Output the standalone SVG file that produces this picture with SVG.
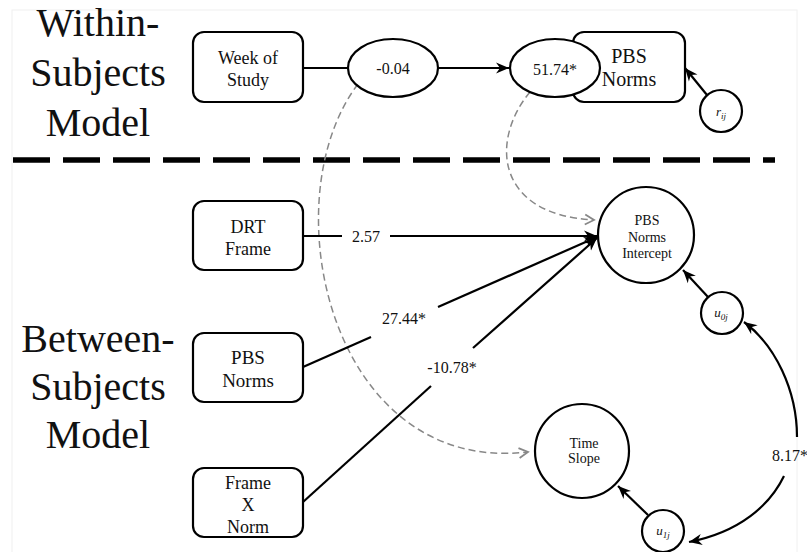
<svg xmlns="http://www.w3.org/2000/svg" width="807" height="552" viewBox="0 0 807 552">
<style>
  .box{fill:#fff;stroke:#000;stroke-width:2.2}
  .t{font-family:"Liberation Serif","Times New Roman",serif;fill:#111;text-anchor:middle}
  .title{font-size:40px}
  .n18{font-size:18px}
  .n19{font-size:19px}
  .n20{font-size:20px}
  .n16{font-size:16px}
  .n14{font-size:14px}
  .ln{fill:none;stroke:#000;stroke-width:2.2}
  .arr{marker-end:url(#ah)}
  .gd{fill:none;stroke:#888;stroke-width:1.5;stroke-dasharray:7 4;marker-end:url(#gh)}
  .it{font-style:italic}
</style>
<defs>
  <marker id="ah" markerUnits="userSpaceOnUse" markerWidth="16" markerHeight="12" refX="13" refY="6" orient="auto">
    <path d="M0,0.5 L13,6 L0,11.5 L4,6 z" fill="#000"/>
  </marker>
  <marker id="gh" markerUnits="userSpaceOnUse" markerWidth="14" markerHeight="14" refX="11" refY="7" orient="auto">
    <path d="M2,2 L11,7 L2,12" fill="none" stroke="#888" stroke-width="1.8"/>
  </marker>
</defs>
<rect x="0" y="0" width="807" height="552" fill="#fff"/>
<rect x="12" y="10" width="785" height="550" fill="none" stroke="#f0f0f0" stroke-width="1"/>

<g id="labels">
  <text class="t title" x="98" y="36">Within-</text>
  <text class="t title" x="98" y="86">Subjects</text>
  <text class="t title" x="98" y="136">Model</text>
  <text class="t title" x="98" y="352">Between-</text>
  <text class="t title" x="98" y="400">Subjects</text>
  <text class="t title" x="98" y="448">Model</text>
</g>

<line id="divider" x1="13" y1="160" x2="775" y2="160" stroke="#000" stroke-width="5.5" stroke-dasharray="37 13"/>

<g id="connectors">
  <path class="gd" d="M358 84 C270 200, 330 475, 528 452"/>
  <path class="gd" d="M530 92 C490 140, 495 215, 594 220"/>
  <line class="ln" x1="303" y1="68" x2="348" y2="68"/>
  <line class="ln arr" x1="438" y1="68" x2="509" y2="68"/>
  <line class="ln arr" x1="707" y1="95" x2="685" y2="68"/>
  <line class="ln" x1="303" y1="236" x2="342" y2="236"/>
  <line class="ln arr" x1="390" y1="236" x2="597" y2="236"/>
  <text class="t n16" x="366" y="242">2.57</text>
  <line class="ln" x1="303" y1="367" x2="371" y2="337"/>
  <line class="ln arr" x1="438" y1="307" x2="597" y2="237"/>
  <text class="t n16" x="404" y="324">27.44*</text>
  <line class="ln" x1="303" y1="502" x2="431" y2="386"/>
  <line class="ln arr" x1="473" y1="348" x2="597" y2="238"/>
  <text class="t n16" x="452" y="373">-10.78*</text>
  <line class="ln arr" x1="708" y1="297" x2="683" y2="270"/>
  <line class="ln arr" x1="648" y1="515" x2="618" y2="486"/>
  <path class="ln arr" d="M797 437 C797 390, 775 345, 744 322"/>
  <path class="ln arr" d="M784 476 C770 505, 740 532, 689 542"/>
  <text class="t n16" x="790" y="461">8.17*</text>
</g>

<g id="week">
  <rect class="box" x="193" y="32" width="110" height="70" rx="11"/>
  <text class="t n18" x="248" y="64">Week of</text>
  <text class="t n18" x="248" y="86">Study</text>
</g>
<g id="coef1">
  <ellipse class="box" cx="393" cy="68" rx="45" ry="29"/>
  <text class="t n16" x="393" y="74">-0.04</text>
</g>
<g id="pbsnorms-within">
  <rect class="box" x="573" y="32" width="112" height="70" rx="11"/>
  <text class="t n20" x="629" y="63">PBS</text>
  <text class="t n20" x="629" y="86">Norms</text>
</g>
<g id="coef2">
  <ellipse class="box" cx="555" cy="68" rx="45" ry="29"/>
  <text class="t n16" x="555" y="75">51.74*</text>
</g>
<g id="rij">
  <circle class="box" cx="721" cy="111" r="21"/>
  <text class="t" x="721" y="116" font-size="13"><tspan class="it">r</tspan><tspan class="it" font-size="9" dy="3">ij</tspan></text>
</g>
<g id="drt">
  <rect class="box" x="193" y="201" width="110" height="69" rx="11"/>
  <text class="t n18" x="248" y="233">DRT</text>
  <text class="t n18" x="248" y="255">Frame</text>
</g>
<g id="pbsnorms-between">
  <rect class="box" x="193" y="333" width="110" height="69" rx="11"/>
  <text class="t n19" x="248" y="364">PBS</text>
  <text class="t n19" x="248" y="387">Norms</text>
</g>
<g id="fxn">
  <rect class="box" x="193" y="468" width="110" height="69" rx="11"/>
  <text class="t n18" x="248" y="489">Frame</text>
  <text class="t n18" x="248" y="511">X</text>
  <text class="t n18" x="248" y="533">Norm</text>
</g>
<g id="intercept">
  <circle class="box" cx="646" cy="235" r="48"/>
  <text class="t n14" x="647" y="225">PBS</text>
  <text class="t n14" x="647" y="242">Norms</text>
  <text class="t n14" x="647" y="258">Intercept</text>
</g>
<g id="u0j">
  <circle class="box" cx="722" cy="313" r="21"/>
  <text class="t" x="721" y="317" font-size="13"><tspan class="it">u</tspan><tspan class="it" font-size="9" dy="3">0j</tspan></text>
</g>
<g id="timeslope">
  <circle class="box" cx="582" cy="451" r="47"/>
  <text class="t n14" x="584" y="448">Time</text>
  <text class="t n14" x="584" y="463">Slope</text>
</g>
<g id="u1j">
  <circle class="box" cx="663" cy="531" r="21"/>
  <text class="t" x="663" y="535" font-size="13"><tspan class="it">u</tspan><tspan class="it" font-size="9" dy="3">1j</tspan></text>
</g>
</svg>
